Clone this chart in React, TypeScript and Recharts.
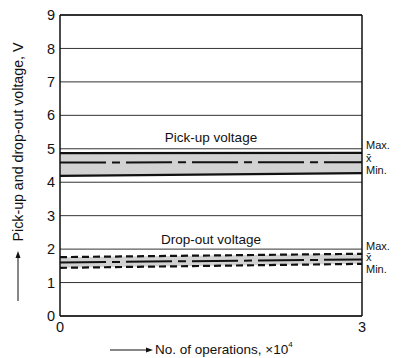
import { Area, CartesianGrid, ComposedChart, Line, ReferenceLine, XAxis, YAxis } from "recharts";

const operations = [0, 3];
const pickMax = [4.87, 4.88];
const pickMean = [4.59, 4.6];
const pickMin = [4.19, 4.27];
const dropMax = [1.76, 1.86];
const dropMean = [1.6, 1.69];
const dropMin = [1.44, 1.56];
const yTicks = [0, 1, 2, 3, 4, 5, 6, 7, 8, 9];
const xTicks = [0, 3];

const data = operations.map((x, i) => ({
  x,
  pickMax: pickMax[i],
  pickMean: pickMean[i],
  pickMin: pickMin[i],
  pickBand: [pickMin[i], pickMax[i]],
  dropMax: dropMax[i],
  dropMean: dropMean[i],
  dropMin: dropMin[i],
  dropBand: [dropMin[i], dropMax[i]],
}));

const FONT = "'Liberation Sans', Arial, sans-serif";

function YLabel() {
  return (
    <g>
      <text
        x={19}
        y={142}
        transform="rotate(-90 19 142)"
        textAnchor="middle"
        dominantBaseline="middle"
        fontSize={14.2}
        fontFamily={FONT}
        fill="#111"
      >
        Pick-up and drop-out voltage, V
      </text>
      <line x1={18} y1={301} x2={18} y2={257} stroke="#111" strokeWidth={1} />
      <polygon points="15.5,258 20.5,258 18,251" fill="#111" />
    </g>
  );
}

function XLabel() {
  return (
    <g>
      <line x1={110} y1={350} x2={147} y2={350} stroke="#111" strokeWidth={1} />
      <polygon points="146,347.5 146,352.5 153,350" fill="#111" />
      <text x={155} y={350} dominantBaseline="middle" fontSize={13.5} fontFamily={FONT} fill="#111">
        No. of operations, ×10
        <tspan dy={-5} fontSize={8}>4</tspan>
      </text>
    </g>
  );
}

const sideLabel = (value: string) => ({
  value,
  position: "right" as const,
  offset: 4,
  fontSize: 11,
  fontFamily: FONT,
  fill: "#111",
});

export default function App() {
  return (
    <div style={{ position: "absolute", left: 0, top: 0, background: "#fff" }}>
      <ComposedChart width={401} height={358} data={data} margin={{ top: 15, right: 39, left: 20, bottom: 12 }}>
        <CartesianGrid horizontal vertical={false} stroke="#333" strokeWidth={1} />
        <XAxis
          dataKey="x"
          type="number"
          domain={[0, 3]}
          ticks={xTicks}
          height={30}
          tickLine={false}
          tickSize={0}
          tickMargin={6}
          axisLine={{ stroke: "#111", strokeWidth: 1.5 }}
          tick={{ fontSize: 14.5, fontFamily: FONT, fill: "#111" }}
          label={{ content: XLabel }}
        />
        <YAxis
          type="number"
          domain={[0, 9]}
          ticks={yTicks}
          interval={0}
          width={40}
          tickLine={false}
          tickSize={0}
          tickMargin={5}
          axisLine={{ stroke: "#111", strokeWidth: 1.5 }}
          tick={{ fontSize: 14.5, fontFamily: FONT, fill: "#111" }}
          label={{ content: YLabel }}
        />
        <Area type="linear" dataKey="pickBand" stroke="none" fill="#d2d2d2" fillOpacity={1} isAnimationActive={false} />
        <Area type="linear" dataKey="dropBand" stroke="none" fill="#d2d2d2" fillOpacity={1} isAnimationActive={false} />
        <Line type="linear" dataKey="pickMax" stroke="#111" strokeWidth={2.2} dot={false} isAnimationActive={false} />
        <Line type="linear" dataKey="pickMin" stroke="#111" strokeWidth={2.2} dot={false} isAnimationActive={false} />
        <Line
          type="linear"
          dataKey="pickMean"
          stroke="#111"
          strokeWidth={2}
          strokeDasharray="46 6 8 6"
          dot={false}
          isAnimationActive={false}
        />
        <Line
          type="linear"
          dataKey="dropMax"
          stroke="#111"
          strokeWidth={2.2}
          strokeDasharray="7 4"
          dot={false}
          isAnimationActive={false}
        />
        <Line
          type="linear"
          dataKey="dropMin"
          stroke="#111"
          strokeWidth={2.2}
          strokeDasharray="7 4"
          dot={false}
          isAnimationActive={false}
        />
        <Line
          type="linear"
          dataKey="dropMean"
          stroke="#111"
          strokeWidth={2}
          strokeDasharray="46 6 8 6"
          dot={false}
          isAnimationActive={false}
        />
        <ReferenceLine x={3} stroke="#111" strokeWidth={1.5} />
        <ReferenceLine y={9} stroke="#111" strokeWidth={1.5} />
        <ReferenceLine
          y={5.36}
          stroke="none"
          label={{ value: "Pick-up voltage", position: "center", fontSize: 13.5, fontFamily: FONT, fill: "#111" }}
        />
        <ReferenceLine
          y={2.31}
          stroke="none"
          label={{ value: "Drop-out voltage", position: "center", fontSize: 13.5, fontFamily: FONT, fill: "#111" }}
        />
        <ReferenceLine y={5.1} stroke="none" label={sideLabel("Max.")} />
        <ReferenceLine y={4.73} stroke="none" label={sideLabel("x\u0304")} />
        <ReferenceLine y={4.36} stroke="none" label={sideLabel("Min.")} />
        <ReferenceLine y={2.1} stroke="none" label={sideLabel("Max.")} />
        <ReferenceLine y={1.77} stroke="none" label={sideLabel("x\u0304")} />
        <ReferenceLine y={1.4} stroke="none" label={sideLabel("Min.")} />
      </ComposedChart>
    </div>
  );
}
